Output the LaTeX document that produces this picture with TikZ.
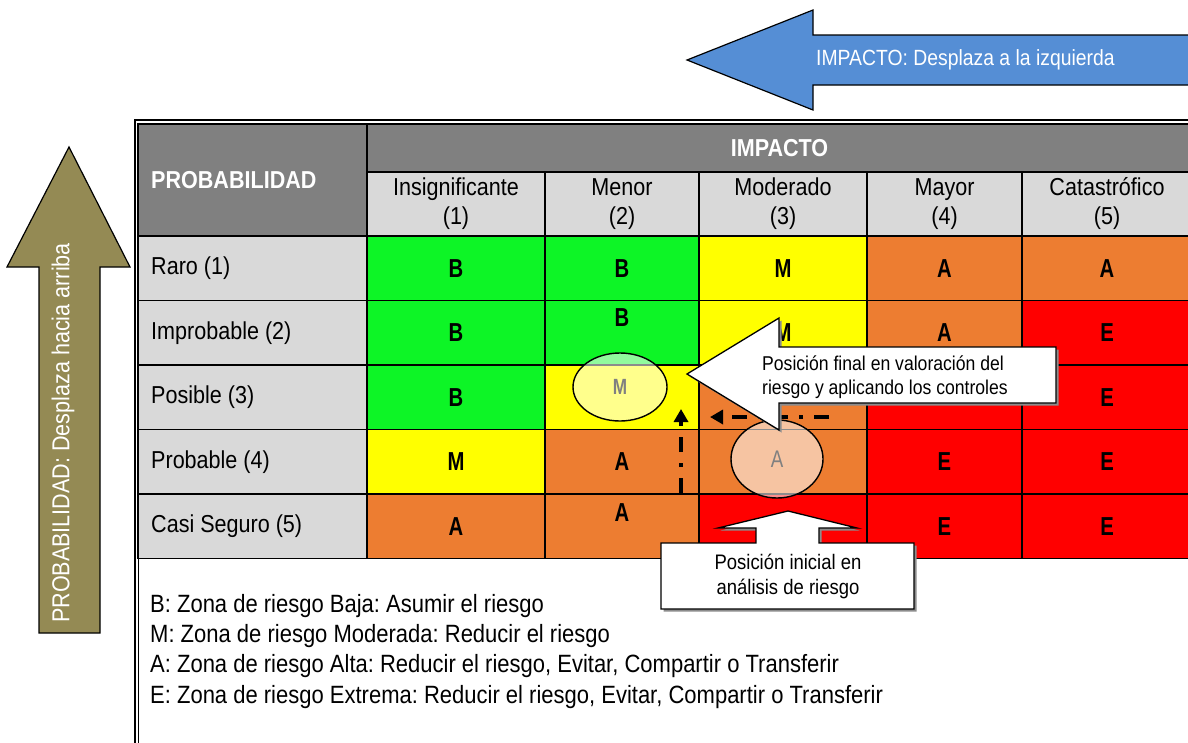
\documentclass[tikz,border=0pt]{standalone}
\usepackage{fontspec}
\setmainfont{Liberation Sans}[FakeStretch=0.88]
\newfontfamily\markfont{Liberation Sans}[FakeStretch=0.78]
\usepackage{tikz}
\usetikzlibrary{arrows.meta,shapes.geometric,shadows}
\definecolor{zoneGreen}{HTML}{0DF526}
\definecolor{zoneYellow}{HTML}{FFFF00}
\definecolor{zoneOrange}{HTML}{ED7D31}
\definecolor{zoneRed}{HTML}{FF0000}
\definecolor{headDark}{HTML}{808080}
\definecolor{headLight}{HTML}{D9D9D9}
\definecolor{impBlue}{HTML}{558ED5}
\definecolor{probOlive}{HTML}{948A54}
\newcommand{\txtmain}{\fontsize{24.5pt}{29pt}\selectfont}
\newcommand{\txtlegend}{\fontsize{25pt}{29pt}\selectfont}
\newcommand{\txtmark}{\markfont\bfseries\fontsize{26pt}{28pt}\selectfont}
\newcommand{\txtnote}{\fontsize{20pt}{24pt}\selectfont}
\newcommand{\txtnoteb}{\fontsize{21pt}{25pt}\selectfont}
\newcommand{\txtarrow}{\fontsize{22pt}{26pt}\selectfont}
\frenchspacing

\begin{document}
\begin{tikzpicture}[x=1pt,y=-1pt,
  cell/.style={draw=black,line width=1.6pt,inner sep=0pt,outer sep=0pt,minimum height=64.5pt,font=\txtmark},
  col1/.style={minimum width=178pt},
  col2/.style={minimum width=154pt},
  col3/.style={minimum width=168pt},
  col4/.style={minimum width=155pt},
  col5/.style={minimum width=170pt},
  lab/.style={cell,fill=headLight,minimum width=229pt},
  head/.style={cell,fill=headLight,align=center,font=\txtmain},
  rowtxt/.style={anchor=west,font=\txtmain,inner sep=0pt},
  bubble/.style={ellipse,draw=black,line width=1.4pt,fill=white,fill opacity=.55,text opacity=1,text=headDark,inner sep=0pt},
  callout/.style={draw=black,fill=white,line width=1.3pt,drop shadow={shadow xshift=2.5pt,shadow yshift=-2.5pt,fill=black!45,opacity=1}},
  move/.style={line width=3.5pt,dash pattern=on 15pt off 11pt on 4pt off 11pt,-{Triangle[length=13pt,width=14pt]}}]
\useasboundingbox (0,0) rectangle (1188,742);
% header
\node[cell,fill=headDark,minimum width=229pt,minimum height=112pt] (probHead) at (252.5,180) {};
\node[rowtxt,text=white,font=\bfseries\txtmain] (probTxt) at (151,180) {PROBABILIDAD};
\node[cell,fill=headDark,minimum width=825pt,minimum height=48pt,text=white,font=\bfseries\txtmain] (impHead) at (779.5,148) {IMPACTO};
\node[head,col1,minimum height=64pt] (h1) at (456,204) {Insignificante\\(1)};
\node[head,col2,minimum height=64pt] (h2) at (622,204) {Menor\\(2)};
\node[head,col3,minimum height=64pt] (h3) at (783,204) {Moderado\\(3)};
\node[head,col4,minimum height=64pt] (h4) at (944.5,204) {Mayor\\(4)};
\node[head,col5,minimum height=64pt] (h5) at (1107,204) {Catastrófico\\(5)};
% row 1
\node[lab] (l1) at (252.5,268.25) {};
\node[rowtxt] at (151,268.25) {Raro (1)};
\node[cell,col1,fill=zoneGreen] (r1c1) at (456,268.25) {B};
\node[cell,col2,fill=zoneGreen] (r1c2) at (622,268.25) {B};
\node[cell,col3,fill=zoneYellow] (r1c3) at (783,268.25) {M};
\node[cell,col4,fill=zoneOrange] (r1c4) at (944.5,268.25) {A};
\node[cell,col5,fill=zoneOrange] (r1c5) at (1107,268.25) {A};
% row 2
\node[lab] (l2) at (252.5,332.75) {};
\node[rowtxt] at (151,332.75) {Improbable (2)};
\node[cell,col1,fill=zoneGreen] (r2c1) at (456,332.75) {B};
\node[cell,col2,fill=zoneGreen] (r2c2) at (622,332.75) {};
\node[font=\txtmark] at ([yshift=15pt]r2c2.center) {B};
\node[cell,col3,fill=zoneYellow] (r2c3) at (783,332.75) {M};
\node[cell,col4,fill=zoneOrange] (r2c4) at (944.5,332.75) {A};
\node[cell,col5,fill=zoneRed] (r2c5) at (1107,332.75) {E};
% row 3
\node[lab] (l3) at (252.5,397.25) {};
\node[rowtxt] at (151,397.25) {Posible (3)};
\node[cell,col1,fill=zoneGreen] (r3c1) at (456,397.25) {B};
\node[cell,col2,fill=zoneYellow] (r3c2) at (622,397.25) {};
\node[cell,col3,fill=zoneOrange] (r3c3) at (783,397.25) {};
\node[cell,col4,fill=zoneRed] (r3c4) at (944.5,397.25) {};
\node[cell,col5,fill=zoneRed] (r3c5) at (1107,397.25) {E};
% row 4
\node[lab] (l4) at (252.5,461.75) {};
\node[rowtxt] at (151,461.75) {Probable (4)};
\node[cell,col1,fill=zoneYellow] (r4c1) at (456,461.75) {M};
\node[cell,col2,fill=zoneOrange] (r4c2) at (622,461.75) {A};
\node[cell,col3,fill=zoneOrange] (r4c3) at (783,461.75) {};
\node[cell,col4,fill=zoneRed] (r4c4) at (944.5,461.75) {E};
\node[cell,col5,fill=zoneRed] (r4c5) at (1107,461.75) {E};
% row 5
\node[lab] (l5) at (252.5,526.25) {};
\node[rowtxt] at (151,526.25) {Casi Seguro (5)};
\node[cell,col1,fill=zoneOrange] (r5c1) at (456,526.25) {A};
\node[cell,col2,fill=zoneOrange] (r5c2) at (622,526.25) {};
\node[font=\txtmark] at ([yshift=14pt]r5c2.center) {A};
\node[cell,col3,fill=zoneRed] (r5c3) at (783,526.25) {};
\node[cell,col4,fill=zoneRed] (r5c4) at (944.5,526.25) {E};
\node[cell,col5,fill=zoneRed] (r5c5) at (1107,526.25) {E};
% frame
\draw[line width=1.8pt] (135,746) -- (135,120) -- (1192,120);
\draw[line width=1pt] (138.5,746) -- (138.5,123.5) -- (1192,123.5);
% legend
\node[rowtxt,font=\txtlegend] (lgB) at (150,606) {B: Zona de riesgo Baja: Asumir el riesgo};
\node[rowtxt,font=\txtlegend] (lgM) at (150,636) {M: Zona de riesgo Moderada: Reducir el riesgo};
\node[rowtxt,font=\txtlegend] (lgA) at (150,666) {A: Zona de riesgo Alta: Reducir el riesgo, Evitar, Compartir o Transferir};
\node[rowtxt,font=\txtlegend] (lgE) at (150,697) {E: Zona de riesgo Extrema: Reducir el riesgo, Evitar, Compartir o Transferir};
% moves
\coordinate (vStart) at (681,493);
\coordinate (vEnd) at (681,409);
\coordinate (hStart) at (829,417);
\coordinate (hEnd) at (710,417);
\draw[move] (vStart) -- (vEnd);
\draw[move] (hStart) -- (hEnd);
% risk positions
\node[bubble,minimum width=94pt,minimum height=68pt,font=\markfont\bfseries\fontsize{22pt}{24pt}\selectfont] (eFinal) at (620,387) {M};
\node[bubble,minimum width=92pt,minimum height=78pt,font=\markfont\fontsize{24pt}{26pt}\selectfont] (eInicial) at (777,459) {A};
% callouts
\draw[callout] (779,318) -- (779,347) -- (1056,347) -- (1056,403) -- (779,403) -- (779,430) -- (687,374) -- cycle;
\node[anchor=west,align=left,font=\txtnote,inner sep=0pt] (calloutFin) at (762,377) {Posición final en valoración del\\riesgo y aplicando los controles};
\draw[callout] (788,511) -- (857,528) -- (819,528) -- (819,543) -- (914,543) -- (914,609) -- (661,609) -- (661,543) -- (756,543) -- (756,528) -- (718,528) -- cycle;
\node[align=center,font=\txtnoteb,inner sep=0pt] (calloutIni) at (788,576) {Posición inicial en\\análisis de riesgo};
% direction arrows
\draw[fill=impBlue,line width=1.2pt] (1194,35) -- (813,35) -- (813,10) -- (687,60) -- (813,110) -- (813,85) -- (1194,85);
\node[anchor=west,text=white,font=\txtarrow,inner sep=0pt] (impArrow) at (816,60) {IMPACTO: Desplaza a la izquierda};
\draw[fill=probOlive,line width=1.2pt] (39,633) -- (39,267) -- (7,267) -- (69,147) -- (130,267) -- (100,267) -- (100,633) -- cycle;
\node[rotate=90,text=white,font=\txtmain,inner sep=0pt] (probArrow) at (63,433) {PROBABILIDAD: Desplaza hacia arriba};
\end{tikzpicture}
\end{document}
